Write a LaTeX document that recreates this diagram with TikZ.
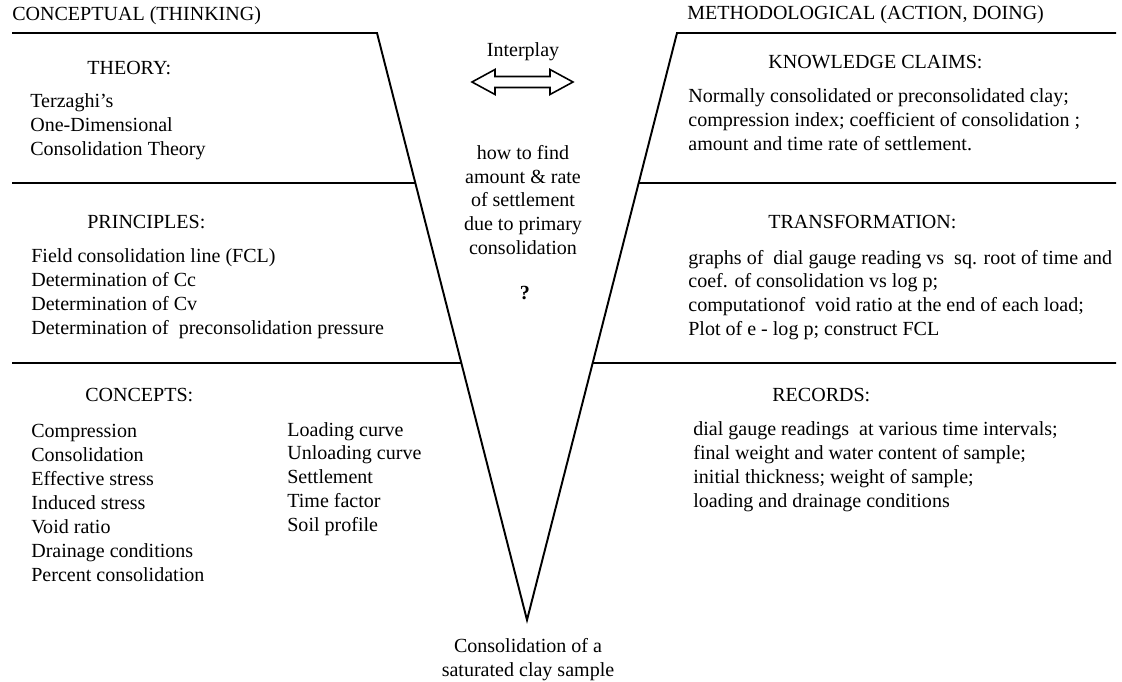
\documentclass[tikz,border=0pt]{standalone}
\usepackage{fontspec}
\setmainfont{Liberation Serif}
\usepackage{tikz}
\usetikzlibrary{calc,positioning}
\tikzset{
  txt/.style={anchor=west,inner sep=0pt,align=left,font=\fontsize{11.4}{13.6}\selectfont},
  ctxt/.style={inner sep=0pt,align=center,font=\fontsize{11.4}{13.6}\selectfont},
  vline/.style={line width=1.1pt,line join=miter}
}

\begin{document}
\begin{tikzpicture}[x=0.02cm,y=-0.02cm]
\useasboundingbox (0,0) rectangle (1122,682);
% V shape
\coordinate (tl) at (377,33);
\coordinate (tr) at (677,33);
\coordinate (apex) at (527,620);
\draw[vline] (12,33) -- (tl) -- (apex) -- (tr) -- (1116,33);
\draw[vline] (12,183) -- ($(tl)!0.2555!(apex)$);
\draw[vline] (12,363) -- ($(tl)!0.5622!(apex)$);
\draw[vline] ($(tr)!0.2555!(apex)$) -- (1116,183);
\draw[vline] ($(tr)!0.5622!(apex)$) -- (1116,363);
% Left side
\node[txt] (conceptual) at (12,16) {CONCEPTUAL (THINKING)};
\node[txt] (theory) at (87,68) {THEORY:};
\node[txt] (theorytxt) at (30,127) {Terzaghi's\\One-Dimensional\\Consolidation Theory};
\node[txt] (principles) at (87,222) {PRINCIPLES:};
\node[txt] (principlestxt) at (31,294) {Field consolidation line (FCL)\\Determination of Cc\\Determination of Cv\\Determination of \ preconsolidation pressure};
\node[txt] (concepts) at (85,395) {CONCEPTS:};
\node[txt] (conceptsa) at (31,503) {Compression\\Consolidation\\Effective stress\\Induced stress\\Void ratio\\Drainage conditions\\Percent consolidation};
\node[txt] (conceptsb) at (287,479) {Loading curve\\Unloading curve\\Settlement\\Time factor\\Soil profile};
% Right side
\node[txt] (methodological) at (687,15) {METHODOLOGICAL (ACTION, DOING)};
\node[txt] (claims) at (768,62) {KNOWLEDGE CLAIMS:};
\node[txt] (claimstxt) at (688,120) {Normally consolidated or preconsolidated clay;\\compression index; coefficient of consolidation ;\\amount and time rate of settlement.};
\node[txt] (transformation) at (768,222) {TRANSFORMATION:};
\node[txt] (transformationtxt) at (688,295) {graphs of \ dial gauge reading vs \ sq. root of time and\\coef. of consolidation vs log p;\\computationof \ void ratio at the end of each load;\\Plot of e - log p; construct FCL};
\node[txt] (records) at (772,395) {RECORDS:};
\node[txt] (recordstxt) at (693,467) {dial gauge readings \ at various time intervals;\\final weight and water content of sample;\\initial thickness; weight of sample;\\loading and drainage conditions};
% Middle
\node[ctxt] (interplay) at (523,52) {Interplay};
\draw[line width=0.9pt,line join=miter] (472,82) -- (495,69.5) -- (495,76.5) -- (550,76.5) -- (550,69.5) -- (573,82)
  -- (550,94.5) -- (550,87.5) -- (495,87.5) -- (495,94.5) -- cycle;
\node[ctxt] (question) at (523,200) {how to find\\amount \& rate\\of settlement\\due to primary\\consolidation};
\node[ctxt] (qmark) at (525,293) {\textbf{?}};
\node[ctxt] (event) at (528,660) {Consolidation of a\\saturated clay sample};
\end{tikzpicture}
\end{document}
